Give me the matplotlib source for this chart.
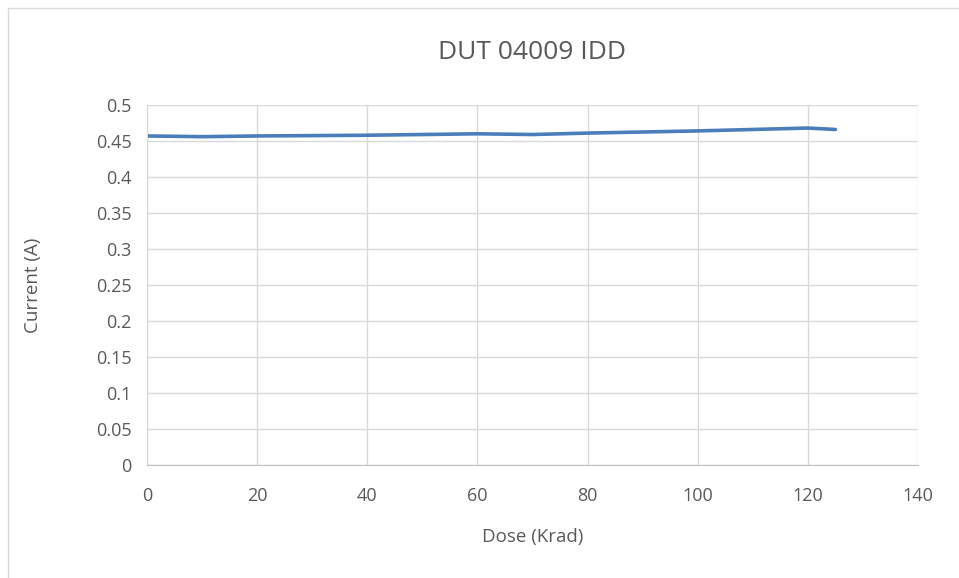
import matplotlib
matplotlib.use("Agg")
import matplotlib.pyplot as plt
from matplotlib.patches import Rectangle

# data
dose = [0, 10, 20, 40, 60, 70, 80, 100, 120, 125]
current = [0.457, 0.456, 0.457, 0.458, 0.460, 0.459, 0.461, 0.464, 0.468, 0.466]

x_ticks = [0, 20, 40, 60, 80, 100, 120, 140]
y_ticks = [0, 0.05, 0.1, 0.15, 0.2, 0.25, 0.3, 0.35, 0.4, 0.45, 0.5]
y_labels = ["0", "0.05", "0.1", "0.15", "0.2", "0.25", "0.3", "0.35", "0.4", "0.45", "0.5"]

text_col = "#595959"
grid_col = "#d9d9d9"

plt.rcParams["font.family"] = ["Open Sans", "DejaVu Sans"]

fig = plt.figure(figsize=(9.59, 5.78), dpi=100)
ax = fig.add_axes([147 / 959, 1 - 465 / 578, (918 - 147) / 959, (465 - 105) / 578])

# outer chart border (bottom edge falls outside the picture)
fig.patches.append(Rectangle((8 / 959, -0.05), 1.2, 1.05 - 8 / 578,
                             transform=fig.transFigure, fill=False,
                             edgecolor="#d9d9d9", linewidth=1))

ax.plot(dose, current, color="#4a7ebb", linewidth=2.6, solid_capstyle="round")

ax.set_xlim(0, 140)
ax.set_ylim(0, 0.5)
ax.set_xticks(x_ticks)
ax.set_yticks(y_ticks)
ax.set_yticklabels(y_labels)
ax.grid(True, color=grid_col, linewidth=1)
ax.set_axisbelow(True)

for side in ["top", "right"]:
    ax.spines[side].set_visible(False)
ax.spines["left"].set_color(grid_col)
ax.spines["bottom"].set_color("#bfbfbf")
ax.tick_params(axis="y", length=0, colors=text_col, labelsize=13, pad=11)
ax.tick_params(axis="x", length=0, colors=text_col, labelsize=13, pad=16)

ax.set_title("DUT 04009 IDD", color=text_col, fontsize=19, pad=33)
ax.set_xlabel("Dose (Krad)", color=text_col, fontsize=13.5)
ax.set_ylabel("Current (A)", color=text_col, fontsize=13.5)
ax.xaxis.set_label_coords(0.5, -(537 - 465) / 360, transform=ax.transAxes)
ax.xaxis.label.set_va("center")
ax.yaxis.set_label_coords(-(147 - 33) / 771, 0.5, transform=ax.transAxes)
ax.yaxis.label.set_va("center")

fig.savefig("out.png", dpi=100)
